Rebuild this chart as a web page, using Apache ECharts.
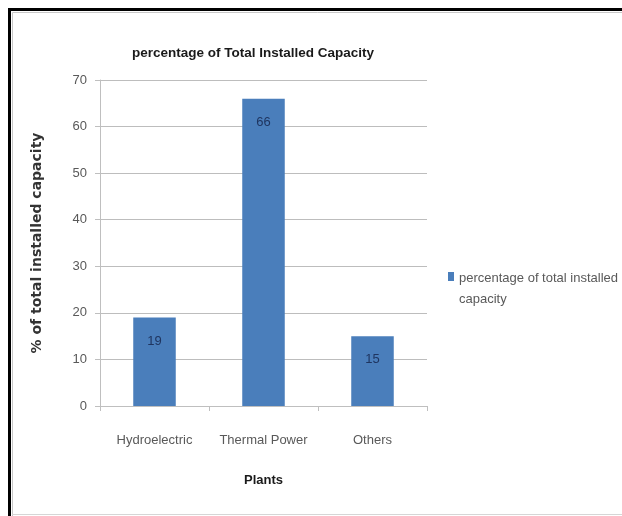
<!DOCTYPE html>
<html>
<head>
<meta charset="utf-8">
<script src="https://cdn.jsdelivr.net/npm/echarts@6/dist/echarts.min.js"></script>
<style>
  html, body { margin: 0; padding: 0; background: #fff; }
  #chart { width: 622px; height: 516px; }
</style>
</head>
<body>
<div id="chart"></div>
<script>
// Share of total installed capacity by plant type
const categories = ['Hydroelectric', 'Thermal Power', 'Others'];
const capacityShare = [19, 66, 15];
const yTicks = [0, 10, 20, 30, 40, 50, 60, 70];

const narrow = '"Liberation Sans Narrow", "Arial Narrow", "Liberation Sans", sans-serif';

const chart = echarts.init(document.getElementById('chart'), null, { renderer: 'canvas' });

chart.setOption({
  backgroundColor: '#ffffff',
  animation: false,
  title: {
    text: 'percentage of Total Installed Capacity',
    left: 248,
    top: 41,
    textAlign: 'center',
    textStyle: { fontFamily: narrow, fontWeight: 'bold', fontSize: 13.5, color: '#1a1a1a' }
  },
  legend: {
    left: 443,
    top: 263,
    orient: 'vertical',
    // marker box is as tall as both text lines; the filled square sits at its top
    itemWidth: 6,
    itemHeight: 34,
    itemGap: 4,
    icon: 'path://M0,0h6v9h-6zM0,34h0.01v0.01h-0.01z',
    data: ['percentage of total installed capacity'],
    formatter: function (name) {
      return name.replace(' capacity', '\ncapacity');
    },
    textStyle: {
      fontFamily: narrow, fontSize: 13, color: '#595959', lineHeight: 21
    }
  },
  grid: { left: 100, right: 195, top: 80, bottom: 110, containLabel: false },
  xAxis: {
    type: 'category',
    data: categories,
    name: 'Plants',
    nameLocation: 'middle',
    nameGap: 68,
    nameTextStyle: { fontFamily: narrow, fontWeight: 'bold', fontSize: 13, color: '#1a1a1a' },
    axisLine: { lineStyle: { color: '#bfbfbf', width: 1 } },
    axisTick: { show: true, alignWithLabel: false, length: 5, lineStyle: { color: '#bfbfbf' } },
    axisLabel: { interval: 0, fontFamily: narrow, fontSize: 13, color: '#595959', margin: 28 }
  },
  yAxis: {
    type: 'value',
    min: yTicks[0],
    max: yTicks[yTicks.length - 1],
    interval: 10,
    name: '% of total installed capacity',
    nameLocation: 'middle',
    nameGap: 56,
    nameRotate: 90,
    nameTextStyle: { fontFamily: '"DejaVu Sans", sans-serif', fontWeight: 'bold', fontSize: 14, color: '#333333' },
    axisLine: { show: true, lineStyle: { color: '#bfbfbf', width: 1 } },
    axisTick: { show: true, length: 5, lineStyle: { color: '#bfbfbf' } },
    axisLabel: { fontFamily: narrow, fontSize: 13, color: '#595959', margin: 13 },
    splitLine: { lineStyle: { color: '#bdbdbd', width: 1 } }
  },
  series: [{
    name: 'percentage of total installed capacity',
    type: 'bar',
    data: capacityShare,
    barWidth: '39%',
    itemStyle: { color: '#4a7ebb' },
    label: {
      show: true,
      position: 'insideTop',
      distance: 17,
      fontFamily: narrow,
      fontSize: 13,
      color: '#1f3560'
    }
  }],
  graphic: [
    // dark frame along the top and left edges
    { type: 'rect', shape: { x: 8, y: 8, width: 614, height: 3 }, style: { fill: '#000' }, silent: true },
    { type: 'rect', shape: { x: 8, y: 8, width: 3, height: 508 }, style: { fill: '#000' }, silent: true },
    // thin grey inner border
    { type: 'line', shape: { x1: 12.5, y1: 12.5, x2: 622, y2: 12.5 }, style: { stroke: '#c8c8c8', lineWidth: 1 }, silent: true },
    { type: 'line', shape: { x1: 12.5, y1: 12.5, x2: 12.5, y2: 516 }, style: { stroke: '#c8c8c8', lineWidth: 1 }, silent: true },
    { type: 'line', shape: { x1: 12, y1: 514.5, x2: 622, y2: 514.5 }, style: { stroke: '#d6d6d6', lineWidth: 1 }, silent: true }
  ]
});
</script>
</body>
</html>
